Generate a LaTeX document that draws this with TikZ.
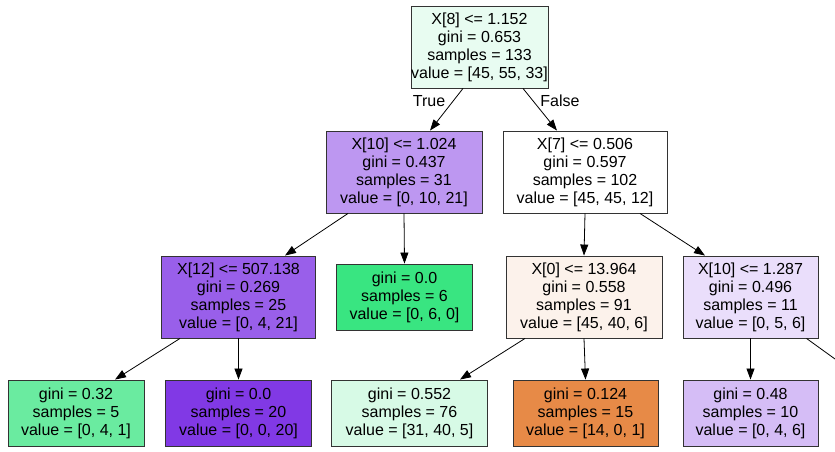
\documentclass[tikz,border=0pt]{standalone}
\usepackage{fontspec}
\setmainfont{Liberation Sans}
\usetikzlibrary{arrows.meta}
\begin{document}
\begin{tikzpicture}[x=1pt,y=-1pt,
  split/.style={rectangle,draw=black!80,line width=0.9pt,align=center,inner sep=0pt,
    minimum height=82pt,font=\fontsize{16}{18}\selectfont},
  leaf/.style={split,minimum height=66pt},
  lbl/.style={inner sep=0pt,font=\fontsize{16}{18}\selectfont},
  edge/.style={black,line width=0.8pt,-{Triangle[length=11pt,width=8pt]}}]
  \definecolor{root}{HTML}{E8FCF1}
  \definecolor{left}{HTML}{BD97F1}
  \definecolor{right}{HTML}{FFFFFF}
  \definecolor{ll}{HTML}{995FEA}
  \definecolor{lr}{HTML}{39E581}
  \definecolor{rl}{HTML}{FCF2EB}
  \definecolor{rr}{HTML}{EADEFB}
  \definecolor{lll}{HTML}{6AEBA0}
  \definecolor{llr}{HTML}{8139E5}
  \definecolor{rll}{HTML}{D7FAE6}
  \definecolor{rlr}{HTML}{E78A47}
  \definecolor{rrl}{HTML}{D5BDF6}
  \useasboundingbox (0,0) rectangle (835,452);
  % depth 0 and 1
  \node [split,fill=root,minimum width=137pt] (root) at (479.5,47)
    {X[8] <= 1.152\\gini = 0.653\\samples = 133\\value = [45, 55, 33]};
  \node [split,fill=left,minimum width=156pt] (left) at (404,172)
    {X[10] <= 1.024\\gini = 0.437\\samples = 31\\value = [0, 10, 21]};
  \node [split,fill=right,minimum width=164pt] (right) at (585,172)
    {X[7] <= 0.506\\gini = 0.597\\samples = 102\\value = [45, 45, 12]};
  % depth 2
  \node [split,fill=ll,minimum width=154pt] (ll) at (238.5,297)
    {X[12] <= 507.138\\gini = 0.269\\samples = 25\\value = [0, 4, 21]};
  \node [leaf,fill=lr,minimum width=136pt] (lr) at (404.5,297)
    {gini = 0.0\\samples = 6\\value = [0, 6, 0]};
  \node [split,fill=rl,minimum width=156pt] (rl) at (584,297)
    {X[0] <= 13.964\\gini = 0.558\\samples = 91\\value = [45, 40, 6]};
  \node [split,fill=rr,minimum width=135pt] (rr) at (750.5,297)
    {X[10] <= 1.287\\gini = 0.496\\samples = 11\\value = [0, 5, 6]};
  % depth 3
  \node [leaf,fill=lll,minimum width=136pt] (lll) at (76,413)
    {gini = 0.32\\samples = 5\\value = [0, 4, 1]};
  \node [leaf,fill=llr,minimum width=146pt] (llr) at (238.5,413)
    {gini = 0.0\\samples = 20\\value = [0, 0, 20]};
  \node [leaf,fill=rll,minimum width=156pt] (rll) at (409.5,413)
    {gini = 0.552\\samples = 76\\value = [31, 40, 5]};
  \node [leaf,fill=rlr,minimum width=145pt] (rlr) at (585.5,413)
    {gini = 0.124\\samples = 15\\value = [14, 0, 1]};
  \node [leaf,fill=rrl,minimum width=135pt] (rrl) at (750.5,413)
    {gini = 0.48\\samples = 10\\value = [0, 4, 6]};
  \coordinate (rrr) at (835,359);
  % edges
  \draw [edge] ([xshift=-16.5pt]root.south) -- ([xshift=26pt]left.north);
  \draw [edge] ([xshift=43.5pt]root.south) -- ([xshift=-28pt]right.north);
  \node [lbl] (true) at (429,101) {True};
  \node [lbl] (false) at (560,101) {False};
  \draw [edge] ([xshift=-56pt]left.south) -- ([xshift=46.5pt]ll.north);
  \draw [edge] (left.south) -- (lr.north);
  \draw [edge] (right.south) -- (rl.north);
  \draw [edge] ([xshift=55pt]right.south) -- ([xshift=-45.5pt]rr.north);
  \draw [edge] ([xshift=-58.5pt]ll.south) -- ([xshift=39pt]lll.north);
  \draw [edge] (ll.south) -- (llr.north);
  \draw [edge] ([xshift=-59pt]rl.south) -- ([xshift=50.5pt]rll.north);
  \draw [edge] (rl.south) -- (rlr.north);
  \draw [edge] (rr.south) -- (rrl.north);
  \draw [black,line width=0.8pt] ([xshift=56pt]rr.south) -- (rrr);
\end{tikzpicture}
\end{document}
